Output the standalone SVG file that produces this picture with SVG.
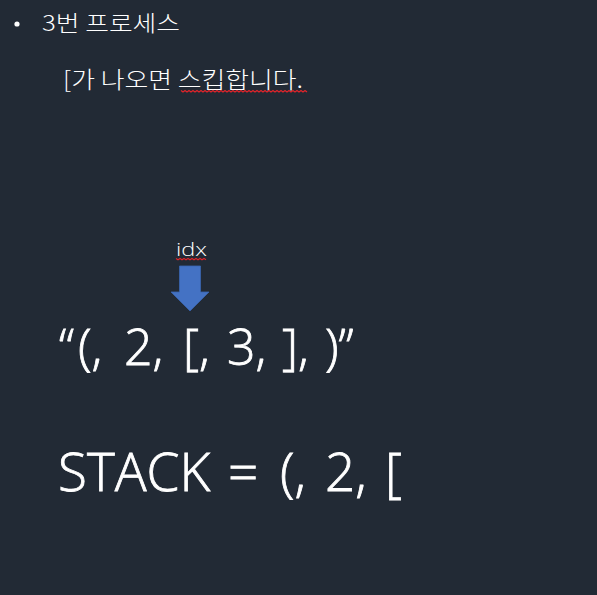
<svg xmlns="http://www.w3.org/2000/svg" width="597" height="595" viewBox="0 0 597 595">
<style>
.t{fill:#ffffff;font-family:"Noto Sans CJK KR","Open Sans",sans-serif;font-weight:300}
.l{fill:#ffffff;font-family:"Open Sans","Noto Sans CJK KR",sans-serif;font-weight:300}
.big{stroke:#ffffff;stroke-width:0.8}
.sq{fill:none;stroke:#e0242a;stroke-width:1.2}
</style>
<rect width="597" height="595" fill="#222a35"/>
<g id="title">
<circle cx="17" cy="24" r="2.6" fill="#ffffff"/>
<text class="t" x="42" y="31" font-size="22" textLength="138" lengthAdjust="spacingAndGlyphs">3번 프로세스</text>
</g>
<g id="note">
<text class="t" x="63" y="88" font-size="23" textLength="240" lengthAdjust="spacingAndGlyphs">[가 나오면 스킵합니다.</text>
<path class="sq" d="M181 90.5 l2 1.5 l2 -1.5 l2 1.5 l2 -1.5 l2 1.5 l2 -1.5 l2 1.5 l2 -1.5 l2 1.5 l2 -1.5 l2 1.5 l2 -1.5 l2 1.5 l2 -1.5 l2 1.5 l2 -1.5 l2 1.5 l2 -1.5 l2 1.5 l2 -1.5 l2 1.5 l2 -1.5 l2 1.5 l2 -1.5 l2 1.5 l2 -1.5 l2 1.5 l2 -1.5 l2 1.5 l2 -1.5 l2 1.5 l2 -1.5 l2 1.5 l2 -1.5 l2 1.5 l2 -1.5 l2 1.5 l2 -1.5 l2 1.5 l2 -1.5 l2 1.5 l2 -1.5 l2 1.5 l2 -1.5 l2 1.5 l2 -1.5 l2 1.5 l2 -1.5 l2 1.5 l2 -1.5 l2 1.5 l2 -1.5 l2 1.5 l2 -1.5 l2 1.5 l2 -1.5 l2 1.5 l2 -1.5 l2 1.5 l2 -1.5 l2 1.5 l2 -1.5 l2 1.5"/>
</g>
<g id="idx">
<text class="l" x="176" y="256" font-size="19" textLength="31" lengthAdjust="spacingAndGlyphs">idx</text>
<path class="sq" d="M176 258.5 l2 1.2 l2 -1.2 l2 1.2 l2 -1.2 l2 1.2 l2 -1.2 l2 1.2 l2 -1.2 l2 1.2 l2 -1.2 l2 1.2 l2 -1.2 l2 1.2 l2 -1.2 l2 1.2"/>
</g>
<g id="connectors">
<polygon points="179.5,266 200.5,266 200.5,292 209,292 190,311 171,292 179.5,292" fill="#4472c4" stroke="#3a64b0" stroke-width="0.8"/>
</g>
<g id="input">
<text class="l big" y="365" font-size="50"><tspan x="59">“</tspan><tspan x="78">(,</tspan><tspan x="124">2,</tspan><tspan x="183">[,</tspan><tspan x="227">3,</tspan><tspan x="282">],</tspan><tspan x="325">)”</tspan></text>
</g>
<g id="stack">
<text class="l big" y="491" font-size="53"><tspan x="58">STACK</tspan><tspan x="228">=</tspan><tspan x="280">(,</tspan><tspan x="325">2,</tspan><tspan x="385">[</tspan></text>
</g>
</svg>
